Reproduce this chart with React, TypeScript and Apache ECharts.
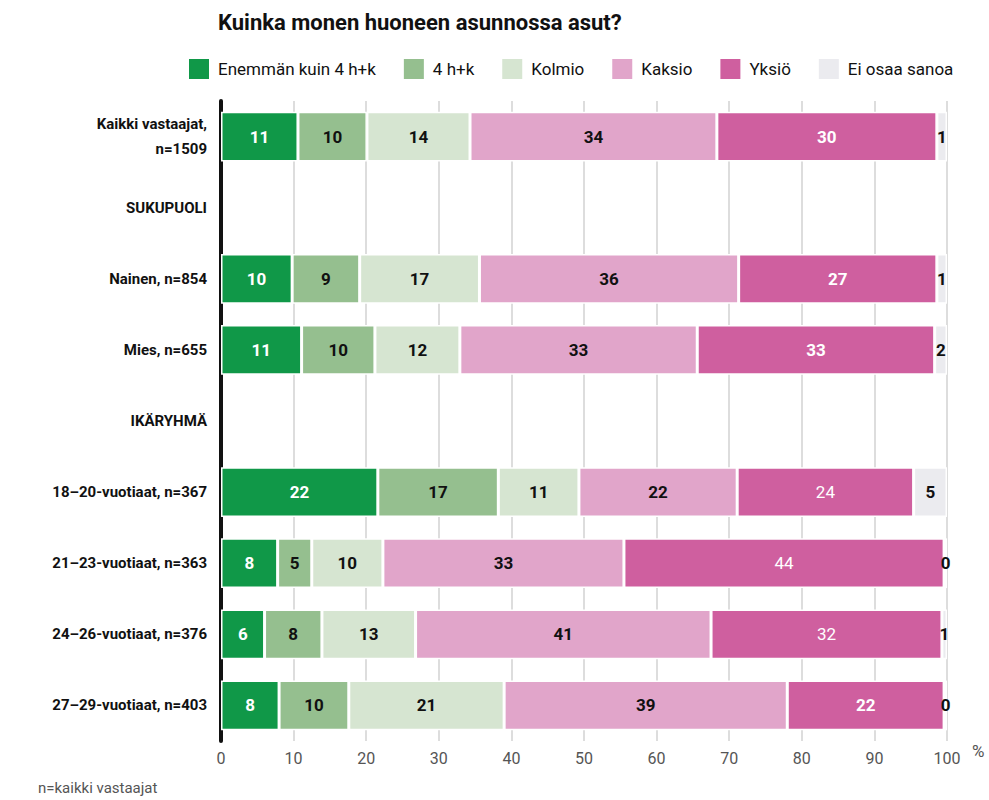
import React, { useEffect, useRef } from "react";
import * as echarts from "echarts";

const title = "Kuinka monen huoneen asunnossa asut?";
const footnote = "n=kaikki vastaajat";
const categories = [
  "Kaikki vastaajat,\nn=1509",
  "SUKUPUOLI",
  "Nainen, n=854",
  "Mies, n=655",
  "IKÄRYHMÄ",
  "18–20-vuotiaat, n=367",
  "21–23-vuotiaat, n=363",
  "24–26-vuotiaat, n=376",
  "27–29-vuotiaat, n=403",
];
const seriesNames = ["Enemmän kuin 4 h+k", "4 h+k", "Kolmio", "Kaksio", "Yksiö", "Ei osaa sanoa"];
const enemman = [10.6, null, 9.8, 11.1, null, 21.6, 7.8, 6.0, 8.0];
const h4 = [9.5, null, 9.3, 10.1, null, 16.6, 4.7, 7.9, 9.6];
const kolmio = [14.2, null, 16.5, 11.7, null, 11.1, 9.8, 12.9, 21.4];
const kaksio = [34.0, null, 35.7, 32.7, null, 21.8, 33.2, 40.7, 39.0];
const yksio = [30.3, null, 27.3, 32.7, null, 24.3, 44.1, 31.8, 21.6];
const eos = [1.4, null, 1.4, 1.7, null, 4.6, 0.4, 0.7, 0.4];
const xTicks = [0, 10, 20, 30, 40, 50, 60, 70, 80, 90, 100];

const colors = ["#109848", "#95bf8f", "#d6e5d1", "#e1a5ca", "#cf5f9f", "#ebebef"];
const labelColors = ["#ffffff", "#111111", "#111111", "#111111", "#ffffff", "#111111"];
const FONT = "Roboto, 'Liberation Sans', sans-serif";

export default function App() {
  const ref = useRef<HTMLDivElement>(null);
  useEffect(() => {
    if (!ref.current) return;
    document.body.style.margin = "0";
    const chart = echarts.init(ref.current, null, { renderer: "svg" });
    const allData = [enemman, h4, kolmio, kaksio, yksio, eos];
    const series = allData.map((arr, si) => ({
      name: seriesNames[si],
      type: "bar",
      stack: "total",
      barWidth: "70%",
      itemStyle: { color: colors[si], borderColor: "#ffffff", borderWidth: 1.5 },
      label: {
        show: true,
        position: "inside",
        color: labelColors[si],
        fontFamily: FONT,
        fontSize: 17,
        fontWeight: "bold",
        formatter: (p: any) => (p.value == null ? "" : String(Math.round(p.value))),
      },
      data: arr.map((v, i) =>
        si === 4 && i >= 5 && i <= 7 ? { value: v, label: { fontWeight: "normal" } } : v
      ),
    }));
    chart.setOption({
      animation: false,
      textStyle: { fontFamily: FONT },
      title: {
        text: title,
        left: 213,
        top: 6,
        textStyle: { fontFamily: FONT, fontSize: 22, fontWeight: "bold", color: "#111" },
      },
      legend: {
        left: 182,
        top: 52,
        itemWidth: 22,
        itemHeight: 22,
        itemGap: 26,
        icon: "rect",
        textStyle: { fontFamily: FONT, fontSize: 17, color: "#111", padding: [0, 0, 0, 3] },
        data: seriesNames,
      },
      grid: { left: 221, right: 42, top: 101, bottom: 59, containLabel: false },
      xAxis: {
        type: "value",
        min: 0,
        max: 100,
        interval: 10,
        axisLine: { show: false },
        axisTick: { show: false },
        splitLine: { show: true, lineStyle: { color: "#dddddd", width: 2 } },
        axisLabel: {
          fontFamily: FONT,
          fontSize: 16,
          color: "#555",
          margin: 9,
          formatter: (v: number) => (xTicks.includes(v) ? String(v) : ""),
        },
      },
      yAxis: {
        type: "category",
        inverse: true,
        data: categories,
        axisLine: { show: true, lineStyle: { color: "#111", width: 4 } },
        axisTick: { show: false },
        axisLabel: {
          fontFamily: FONT,
          fontSize: 15,
          fontWeight: "bold",
          color: "#111",
          margin: 14,
          lineHeight: 25,
          align: "right",
        },
      },
      graphic: [
        {
          type: "text",
          left: 972,
          top: 742,
          style: { text: "%", fontFamily: FONT, fontSize: 17, fill: "#555" },
        },
        {
          type: "text",
          left: 38,
          top: 780,
          style: { text: footnote, fontFamily: FONT, fontSize: 15, fill: "#555" },
        },
      ],
      series,
    });
    return () => chart.dispose();
  }, []);
  return <div ref={ref} style={{ width: 989, height: 800 }} />;
}
